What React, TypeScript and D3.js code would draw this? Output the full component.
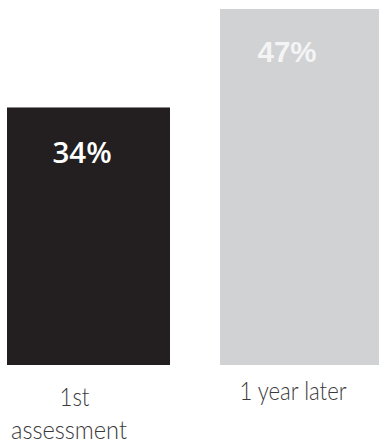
import React from "react";
import * as d3 from "d3";

const categories: string[][] = [["1st", "assessment"], ["1 year later"]];
const values: number[] = [34, 47];
const valueLabels: string[] = ["34%", "47%"];

const W = 379;
const H = 444;
const barColors = ["#231f20", "#d1d2d4"];
const valueColors = ["#ffffff", "#f4f4f5"];
const valueFonts = ["'Open Sans', sans-serif", "'Liberation Sans', Arial, sans-serif"];
const valueWeights = [600, 700];
const valueDx = [-6.5, -14.5];
const valueBaseline = [163, 62];
const catDx = [[-14, -19.5], [-8.5]];
const catBaseline = [[406, 439], [400]];
const catWidths = [[30, 116], [107]];

export default function App() {
  const x = d3
    .scaleBand<number>()
    .domain(values.map((_, i) => i))
    .range([7, 383])
    .paddingInner(50 / 213)
    .paddingOuter(0);
  const y = d3.scaleLinear().domain([0, 47]).range([365, 9]);

  return (
    <svg
      width={W}
      height={H}
      style={{ position: "absolute", left: 0, top: 0, display: "block" }}
    >
      <rect width={W} height={H} fill="#ffffff" />
      {values.map((v, i) => {
        const bx = x(i)!;
        const bw = x.bandwidth();
        const cx = bx + bw / 2;
        return (
          <g key={i}>
            <rect x={bx} y={y(v)} width={bw} height={y(0) - y(v)} fill={barColors[i]} />
            <text
              x={cx + valueDx[i]}
              y={valueBaseline[i]}
              textAnchor="middle"
              fontFamily={valueFonts[i]}
              fontWeight={valueWeights[i]}
              fontSize={29.5}
              fill={valueColors[i]}
            >
              {valueLabels[i]}
            </text>
            {categories[i].map((line, j) => (
              <text
                key={j}
                x={cx + catDx[i][j]}
                y={catBaseline[i][j]}
                textAnchor="middle"
                fontFamily="Lato, sans-serif"
                fontWeight={300}
                fontSize={25.5}
                fill="#3a3a3a"
                textLength={catWidths[i][j]}
                lengthAdjust="spacingAndGlyphs"
              >
                {line}
              </text>
            ))}
          </g>
        );
      })}
    </svg>
  );
}
